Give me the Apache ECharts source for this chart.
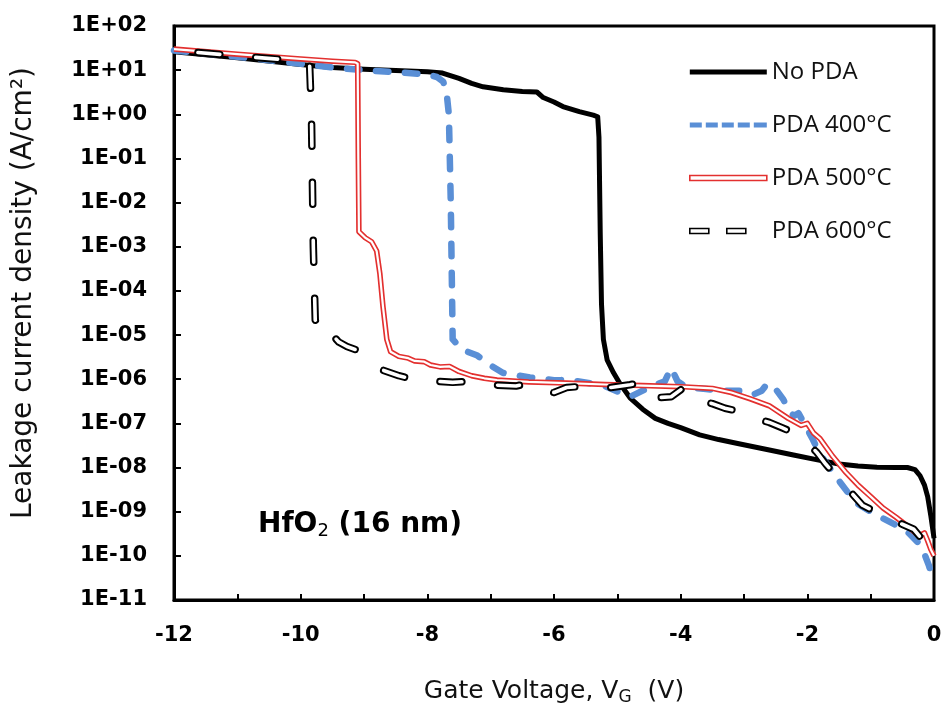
<!DOCTYPE html>
<html>
<head>
<meta charset="utf-8">
<script src="https://cdn.jsdelivr.net/npm/echarts@6.0.0/dist/echarts.min.js"></script>
<style>
  html, body { margin: 0; padding: 0; background: #ffffff; }
  #chart { width: 942px; height: 709px; }
</style>
</head>
<body>
<div id="chart"></div>
<script>
// Gate voltage (V) and leakage current density (A/cm^2) for each anneal condition
const noPdaV = [-12, -11, -10, -9.5, -9, -8.5, -8, -7.76, -7.5, -7.3,
  -7.12, -6.8, -6.5, -6.27, -6.17, -6.0, -5.86, -5.6, -5.38, -5.31,
  -5.29, -5.27, -5.25, -5.22, -5.16, -5.06, -4.96, -4.8, -4.6, -4.4,
  -4.2, -4.0, -3.7, -3.4, -3.1, -2.6, -2.2, -1.8, -1.5, -1.2,
  -0.9, -0.6, -0.42, -0.3, -0.22, -0.15, -0.1, -0.05, -0.02, 0];
const noPdaJ = [26, 19, 13.5, 11.5, 10.5, 9.8, 9.2, 8.6, 6.5, 5,
  4.2, 3.6, 3.3, 3.2, 2.4, 1.9, 1.5, 1.15, 0.96, 0.88,
  0.3, 2e-3, 5e-5, 8e-6, 2.7e-6, 1.4e-6, 8e-7, 3.8e-7, 2.1e-7, 1.3e-7,
  1e-7, 8e-8, 5.5e-8, 4.3e-8, 3.5e-8, 2.5e-8, 1.9e-8, 1.45e-8, 1.2e-8, 1.08e-8,
  1.02e-8, 1e-8, 1e-8, 9e-9, 6.5e-9, 4e-9, 2.2e-9, 8e-10, 4e-10, 2.5e-10];

const pda400V = [-12, -11, -10, -9.5, -9, -8.5, -8, -7.85, -7.75, -7.7,
  -7.66, -7.63, -7.6, -7.44, -7.22, -7.01, -6.81, -6.38, -6.0, -5.75,
  -5.43, -5.2, -4.96, -4.8, -4.6, -4.4, -4.25, -4.15, -4.05, -3.9,
  -3.6, -3.3, -3.0, -2.85, -2.72, -2.63, -2.5, -2.38, -2.27, -2.2,
  -2.14, -2.05, -1.92, -1.8, -1.65, -1.5, -1.35, -1.2, -1.0, -0.8,
  -0.6, -0.4, -0.25, -0.15, -0.08, -0.03, 0];
const pda400J = [28, 20, 14, 11.5, 10, 9, 8, 7, 5.5, 3.5,
  1, 1e-2, 8e-6, 4.6e-6, 3.5e-6, 2.1e-6, 1.4e-6, 1.1e-6, 9.5e-7, 9.6e-7,
  8.1e-7, 7e-7, 5e-7, 4e-7, 5.5e-7, 7.5e-7, 9e-7, 1.8e-6, 9e-7, 6.5e-7,
  6e-7, 5.5e-7, 5.5e-7, 4.5e-7, 5.5e-7, 8e-7, 6e-7, 3.5e-7, 1.7e-7, 1.5e-7,
  1.7e-7, 1e-7, 4.5e-8, 2e-8, 1e-8, 5e-9, 2.6e-9, 1.5e-9, 1e-9, 7e-10,
  5e-10, 3.3e-10, 2e-10, 1.1e-10, 6e-11, 3.5e-11, 2.5e-11];

const pda500V = [-12, -11, -10, -9.5, -9.14, -9.1, -9.09, -9.08, -8.98, -8.88,
  -8.8, -8.75, -8.7, -8.64, -8.58, -8.45, -8.3, -8.2, -8.05, -7.95,
  -7.8, -7.65, -7.5, -7.3, -7.1, -6.9, -6.4, -5.8, -5.2, -4.6,
  -4.0, -3.5, -3.2, -2.9, -2.6, -2.3, -2.1, -2.0, -1.9, -1.8,
  -1.6, -1.4, -1.2, -1.0, -0.8, -0.6, -0.4, -0.28, -0.2, -0.15,
  -0.1, -0.05, 0];
const pda500J = [30, 23, 18, 16, 15, 14, 0.1, 2.2e-3, 1.6e-3, 1.3e-3,
  8e-4, 2.5e-4, 4.4e-5, 8e-6, 4.2e-6, 3.3e-6, 3e-6, 2.6e-6, 2.5e-6, 2.1e-6,
  1.9e-6, 1.95e-6, 1.5e-6, 1.2e-6, 1.05e-6, 9.6e-7, 8.7e-7, 8.2e-7, 7.6e-7, 7.2e-7,
  6.8e-7, 6.2e-7, 5e-7, 3.6e-7, 2.5e-7, 1.3e-7, 9e-8, 1e-7, 6e-8, 4.5e-8,
  1.8e-8, 8e-9, 4e-9, 2.2e-9, 1.2e-9, 7.5e-10, 4.5e-10, 3.2e-10, 3e-10, 3.3e-10,
  2.2e-10, 1.4e-10, 1e-10];

const pda600V = [-12, -11, -10.2, -9.86, -9.83, -9.8, -9.77, -9.72, -9.6, -9.52,
  -9.47, -9.4, -9.27, -9.0, -8.7, -8.45, -8.23, -8.0, -7.85, -7.6,
  -7.33, -6.96, -6.6, -6.43, -6.2, -6.0, -5.8, -5.5, -5.1, -4.8,
  -4.62, -4.5, -4.4, -4.15, -3.95, -3.75, -3.5, -3.3, -3.1, -2.9,
  -2.6, -2.4, -2.2, -2.03, -1.85, -1.71, -1.55, -1.4, -1.13, -0.9,
  -0.73, -0.5, -0.32, -0.2, -0.1, 0];
const pda600J = [28, 21, 17, 15, 1, 1e-3, 2.2e-5, 1.5e-5, 1.1e-5, 1.4e-5,
  9e-6, 7e-6, 5.5e-6, 4e-6, 1.6e-6, 1.2e-6, 1e-6, 8.5e-7, 9e-7, 8.5e-7,
  9e-7, 7.4e-7, 7e-7, 8e-7, 6e-7, 5e-7, 6.5e-7, 7e-7, 6.5e-7, 7.5e-7,
  8.5e-7, 5e-7, 3.8e-7, 4e-7, 6.5e-7, 3.5e-7, 2.8e-7, 2.2e-7, 1.9e-7, 1.4e-7,
  1.05e-7, 8e-8, 6e-8, 4e-8, 2.2e-8, 1.2e-8, 6.5e-9, 3.8e-9, 1.4e-9, 9.5e-10,
  7e-10, 5.2e-10, 4e-10, 2.5e-10, 1.5e-10, 1.5e-10];

const seriesNames = ['No PDA', 'PDA 400°C', 'PDA 500°C', 'PDA 600°C'];
const xTickValues = [-12, -10, -8, -6, -4, -2, 0];

const pairs = (v, j) => v.map((x, i) => [x, j[i]]);

const BLUE = '#5a8fd6';
const RED = '#e3302f';
const INK = '#111111';
const TICK_FONT = 'DejaVu Sans';

function expLabel(v) {
  const e = Math.round(Math.log10(v));
  return '1E' + (e >= 0 ? '+' : '-') + String(Math.abs(e)).padStart(2, '0');
}

function lineSeries(name, data, lineStyle, z) {
  return {
    name: name,
    type: 'line',
    data: data,
    symbol: 'none',
    showSymbol: false,
    silent: true,
    clip: true,
    z: z,
    color: lineStyle.color,
    lineStyle: Object.assign({ join: 'round' }, lineStyle)
  };
}

const chart = echarts.init(document.getElementById('chart'), null, { renderer: 'canvas' });

chart.setOption({
  animation: false,
  backgroundColor: '#ffffff',
  grid: {
    left: 174, right: 8, top: 26, bottom: 109,
    show: true, borderColor: '#000', borderWidth: 3,
    outerBoundsMode: 'none', containLabel: false
  },
  xAxis: {
    type: 'value', min: -12, max: 0, interval: 1,
    name: '{t|Gate Voltage, V}{s|G}{t|  (V)}',
    nameLocation: 'middle', nameGap: 91,
    nameTextStyle: {
      verticalAlign: 'middle',
      rich: {
        t: { fontFamily: TICK_FONT, fontSize: 25, lineHeight: 30, color: INK },
        s: { fontFamily: TICK_FONT, fontSize: 17, lineHeight: 20, verticalAlign: 'bottom', color: INK }
      }
    },
    axisLine: { show: true, onZero: false, lineStyle: { color: '#000', width: 3 } },
    axisTick: { show: true, inside: true, length: 6, lineStyle: { color: '#000', width: 2 } },
    splitLine: { show: false },
    axisLabel: {
      margin: 25, fontFamily: TICK_FONT, fontWeight: 'bold', fontSize: 21, color: '#000',
      formatter: v => (xTickValues.indexOf(v) >= 0 ? String(v) : '')
    }
  },
  yAxis: {
    type: 'log', logBase: 10, min: 1e-11, max: 1e2, interval: 1,
    name: 'Leakage current density (A/cm²)',
    nameLocation: 'middle', nameRotate: 90, nameGap: 150,
    nameTextStyle: {
      fontFamily: TICK_FONT, fontSize: 28, color: INK, verticalAlign: 'middle',
      padding: [0, 0, 0, 40]
    },
    axisLine: { show: true, onZero: false, lineStyle: { color: '#000', width: 3 } },
    axisTick: { show: true, inside: true, length: 7, lineStyle: { color: '#000', width: 2 } },
    splitLine: { show: false },
    axisLabel: {
      margin: 27, fontFamily: TICK_FONT, fontWeight: 'bold', fontSize: 21, color: '#000',
      showMinLabel: true, showMaxLabel: true, hideOverlap: false,
      formatter: expLabel
    }
  },
  legend: {
    orient: 'vertical', left: 689, top: 59, padding: 0,
    itemWidth: 77, itemHeight: 5, itemGap: 27,
    selectedMode: false,
    textStyle: { fontFamily: 'Open Sans', fontSize: 24, lineHeight: 26, color: INK },
    data: [
      { name: seriesNames[0], icon: 'rect', itemStyle: { color: '#000', borderWidth: 0 } },
      { name: seriesNames[1],
        icon: 'path://M0,0H12V5H0Z M16,0H28V5H16Z M32,0H44V5H32Z M48,0H60V5H48Z M64,0H77V5H64Z',
        itemStyle: { color: BLUE, borderWidth: 0 } },
      { name: seriesNames[2], icon: 'rect',
        itemStyle: { color: '#ffffff', borderColor: RED, borderWidth: 1.6 } },
      { name: seriesNames[3],
        icon: 'path://M0,0H19V5H0Z M37,0H56V5H37Z M77,2.5',
        itemStyle: { color: '#ffffff', borderColor: '#000', borderWidth: 1.6 } }
    ]
  },
  graphic: [{
    type: 'text', left: 258, top: 511, silent: true,
    style: {
      text: '{b|HfO}{s|2}{b| (16 nm)}',
      rich: {
        b: { fontFamily: TICK_FONT, fontWeight: 'bold', fontSize: 28, lineHeight: 30, fill: '#000' },
        s: { fontFamily: TICK_FONT, fontWeight: 'normal', fontSize: 18, lineHeight: 20, verticalAlign: 'bottom', fill: '#000' }
      }
    }
  }],
  series: [
    lineSeries(seriesNames[0], pairs(noPdaV, noPdaJ), { color: '#000', width: 5 }, 2),
    lineSeries(seriesNames[1], pairs(pda400V, pda400J), { color: BLUE, width: 6.5, type: [12.5, 16.5], cap: 'round' }, 3),
    // double red line: red stroke with a white core
    lineSeries(seriesNames[2], pairs(pda500V, pda500J), { color: RED, width: 5.5 }, 4),
    lineSeries('PDA 500°C core', pairs(pda500V, pda500J), { color: '#ffffff', width: 2.2 }, 5),
    // hollow capsule dashes: black dashes with white dashes on top
    lineSeries(seriesNames[3], pairs(pda600V, pda600J), { color: '#000', width: 7.5, type: [22, 36], dashOffset: 34, cap: 'round' }, 6),
    lineSeries('PDA 600°C core', pairs(pda600V, pda600J), { color: '#ffffff', width: 3.6, type: [22, 36], dashOffset: 34, cap: 'round' }, 7)
  ]
});
</script>
</body>
</html>
